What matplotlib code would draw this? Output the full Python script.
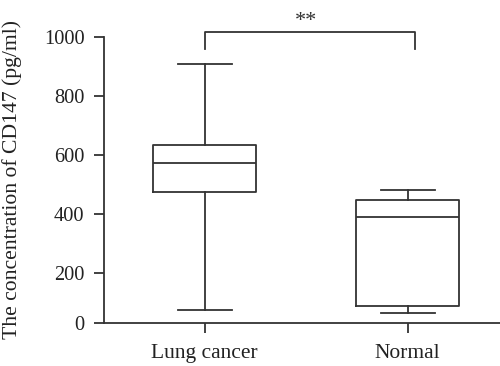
import matplotlib.pyplot as plt

plt.rcParams['font.family'] = ['Liberation Serif', 'DejaVu Serif']

# === 数据 ===
categories = ['Lung cancer', 'Normal']
whislo = [74, 64]
q1 = [475, 89]
med = [572, 390]
q3 = [633, 448]
whishi = [907, 481]

y_ticks = [200, 400, 600, 800, 1000]
y_floor = 32          # x 轴与 y 轴相交处（标为 0）
sig_label = '**'
sig_y = 1015
sig_leg = 957

line_col = '#333333'
lw = 1.3

stats = []
for i, name in enumerate(categories):
    stats.append({'label': name, 'whislo': whislo[i], 'q1': q1[i], 'med': med[i],
                  'q3': q3[i], 'whishi': whishi[i], 'fliers': []})

fig = plt.figure(figsize=(5.0, 3.66), dpi=100)
ax = fig.add_axes([0.208, 0.1183, 0.792, 0.7814])

props = dict(color=line_col, linewidth=lw)
ax.bxp(stats, positions=[0, 1], widths=0.51, capwidths=0.265, showfliers=False,
       boxprops=props, medianprops=props, whiskerprops=props, capprops=props)

# 显著性标记
ax.plot([0, 0, 1.035, 1.035], [sig_leg, sig_y, sig_y, sig_leg], color=line_col,
        linewidth=lw, clip_on=False)
ax.text(0.5, sig_y + 5, sig_label, ha='center', va='bottom', fontsize=16,
        color=line_col)

ax.set_xlim(-0.496, 1.455)
ax.set_ylim(y_floor, 1000)
ax.set_yticks([y_floor] + y_ticks)
ax.set_yticklabels(['0'] + [str(t) for t in y_ticks])
ax.set_xticks([0, 1])
ax.set_xticklabels(categories)

for s in ['top', 'right']:
    ax.spines[s].set_visible(False)
for s in ['left', 'bottom']:
    ax.spines[s].set_color(line_col)
    ax.spines[s].set_linewidth(lw)

ax.tick_params(axis='both', direction='out', length=7, width=lw, color=line_col,
               labelcolor='#222222')
ax.tick_params(axis='y', pad=7, labelsize=14.7)
ax.tick_params(axis='x', pad=8.5, labelsize=15.5)

ax.set_ylabel('The concentration of CD147 (pg/ml)', fontsize=15.6, color='#222222')
ax.yaxis.set_label_coords(-0.207, 0.5)

fig.savefig('out.png', dpi=100)
